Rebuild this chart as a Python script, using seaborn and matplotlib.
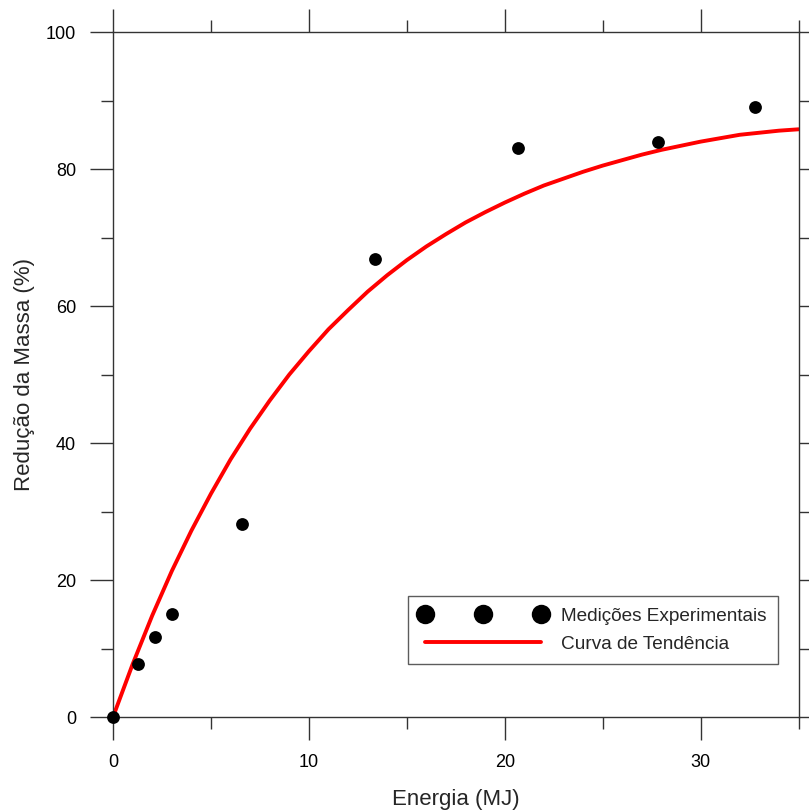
import matplotlib
matplotlib.use("Agg")
import matplotlib.pyplot as plt
from matplotlib.ticker import MultipleLocator
from matplotlib.lines import Line2D
import seaborn as sns
import pandas as pd

# Experimental measurements
energia_exp = [0.0, 1.28, 2.14, 3.01, 6.58, 13.37, 20.7, 27.8, 32.8]
reducao_exp = [0.0, 7.8, 11.7, 15.0, 28.2, 66.9, 83.0, 83.9, 89.0]

# Trend curve (every 1 MJ)
energia_curva = list(range(0, 36))
reducao_curva = [0.0, 7.7, 14.8, 21.3, 27.2, 32.6, 37.6, 42.1, 46.2, 50.0,
                 53.4, 56.6, 59.4, 62.1, 64.5, 66.7, 68.7, 70.5, 72.2, 73.7,
                 75.1, 76.4, 77.6, 78.6, 79.6, 80.5, 81.3, 82.1, 82.8, 83.4,
                 84.0, 84.5, 85.0, 85.3, 85.6, 85.8]

x_ticks = [0, 10, 20, 30]
y_ticks = [0, 20, 40, 60, 80, 100]

sns.set_theme(style="ticks")
plt.rcParams["font.family"] = ["Liberation Sans", "DejaVu Sans"]

df_exp = pd.DataFrame({"Energia": energia_exp, "Reducao": reducao_exp})
df_cur = pd.DataFrame({"Energia": energia_curva, "Reducao": reducao_curva})

fig = plt.figure(figsize=(8.09, 8.11), dpi=100)
ax = fig.add_axes([0.1397, 0.1159, 0.8474, 0.8446])

sns.lineplot(data=df_cur, x="Energia", y="Reducao", ax=ax, color="#ff0000",
             linewidth=2.8, zorder=2)
sns.scatterplot(data=df_exp, x="Energia", y="Reducao", ax=ax, color="black",
                s=85, edgecolor="black", linewidth=0, zorder=3, clip_on=False)

ax.set_xlim(0, 35)
ax.set_ylim(0, 100)
ax.set_xticks(x_ticks)
ax.set_yticks(y_ticks)
ax.xaxis.set_minor_locator(MultipleLocator(5))
ax.yaxis.set_minor_locator(MultipleLocator(10))

for s in ax.spines.values():
    s.set_visible(True)
    s.set_color("#333333")
    s.set_linewidth(1.0)

ax.tick_params(which="both", direction="out", top=True, right=True,
               color="#333333", width=1.0, labelsize=13, labelcolor="black")
ax.tick_params(which="major", length=16.5, pad=10)
ax.tick_params(which="minor", length=8.5)

ax.set_xlabel("Energia (MJ)", fontsize=16, labelpad=13)
ax.set_ylabel("Redução da Massa (%)", fontsize=16, labelpad=8)

h_exp = Line2D([], [], marker="o", linestyle="none", color="black",
               markersize=14, markeredgewidth=0)
h_cur = Line2D([], [], color="#ff0000", linewidth=2.8)
leg = ax.legend([h_exp, h_cur], ["Medições Experimentais", "Curva de Tendência"],
                loc="lower right", bbox_to_anchor=(0.970, 0.077), borderaxespad=0,
                numpoints=3, fontsize=13.7, frameon=True,
                fancybox=False, edgecolor="#333333", handlelength=6.7,
                borderpad=0.6, labelspacing=0.55, handletextpad=0.75)
leg.get_frame().set_linewidth(1.0)

fig.savefig("out.png", dpi=100)
